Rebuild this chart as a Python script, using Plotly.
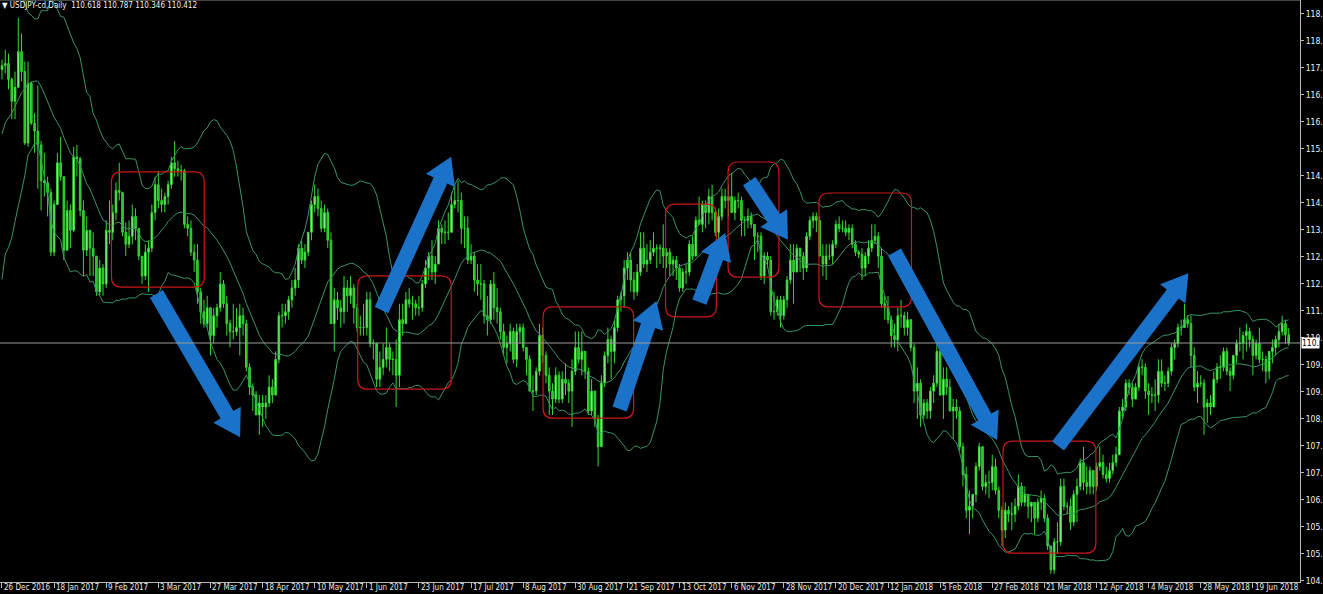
import plotly.graph_objects as go
import pandas as pd
import math

# ---------------- data ----------------
symbol_text = "USDJPY-cd,Daily"
last_ohlc = [110.618, 110.787, 110.346, 110.412]

# closes before the first visible bar (only used to seed the Bollinger bands)
warmup_closes = [112.2, 111.9, 114.5, 114.1, 113.5, 114.0, 114.0, 113.8, 114.1, 115.3,
                 115.1, 115.4, 117.2, 118.1, 117.9, 117.0, 117.8, 117.6, 117.5, 117.3]

first_open = 117.30

highs = [
 117.55,117.80,117.70,117.10,117.25,118.60,118.20,117.50,117.50,117.00,
 116.20,116.90,115.50,115.20,114.60,114.30,114.00,115.20,115.60,114.50,
 114.00,113.90,115.35,115.40,115.10,114.00,113.60,113.20,113.20,112.60,
 112.50,112.40,113.50,114.00,113.90,114.45,114.95,114.20,113.45,113.50,
 113.90,113.80,113.30,112.60,112.90,113.00,113.90,114.60,114.75,114.30,
 114.20,114.50,115.10,115.50,115.00,114.90,114.80,113.60,113.50,112.90,
 112.90,111.80,111.50,111.60,111.30,111.30,111.40,112.20,112.00,111.60,
 111.00,111.40,111.30,111.40,111.30,111.00,109.90,109.40,109.20,109.10,
 109.10,109.10,109.60,109.50,110.20,111.20,111.40,111.40,111.60,112.00,
 112.30,112.90,113.00,112.90,113.20,114.00,114.40,114.30,114.00,113.90,
 113.80,113.20,111.80,111.70,111.50,112.10,112.00,112.10,111.90,111.40,
 111.10,111.40,111.70,111.70,110.50,110.30,110.20,110.40,110.80,110.40,
 110.20,110.50,111.40,111.40,111.70,111.80,111.60,111.50,111.60,112.00,
 112.50,112.70,113.00,112.60,113.50,113.40,113.50,113.70,114.20,114.40,
 114.50,114.20,113.60,113.60,112.90,112.70,112.40,112.40,112.00,111.60,
 112.00,112.20,111.80,111.30,110.90,110.60,110.90,110.80,110.90,110.90,
 110.90,110.30,110.10,109.60,109.80,110.90,110.80,110.20,109.80,109.40,
 109.80,109.70,109.70,109.90,109.50,110.00,110.70,110.70,110.70,110.20,
 109.80,109.50,109.20,108.60,109.60,110.20,110.80,110.60,111.00,111.60,
 111.70,112.50,112.70,112.70,112.20,112.40,113.20,113.20,112.90,113.00,
 113.20,112.90,112.90,113.40,112.80,112.80,112.60,112.60,112.40,112.30,
 112.40,113.00,113.10,113.60,114.10,114.00,114.00,114.30,114.40,113.80,
 113.80,114.30,114.30,114.40,114.70,114.10,114.20,114.10,113.60,113.80,
 113.70,113.40,113.20,113.20,112.70,112.70,112.60,111.70,111.60,111.60,
 111.60,112.10,112.90,112.90,112.90,112.80,112.70,113.20,113.60,113.70,
 113.70,113.60,112.90,112.90,112.90,113.00,113.50,113.60,113.50,113.50,
 113.40,113.40,113.00,112.75,112.80,112.70,113.00,113.40,113.40,113.20,
 112.80,111.60,111.60,111.10,110.90,111.30,111.50,111.20,111.20,111.00,
 110.40,109.80,109.50,109.00,109.00,109.30,109.60,110.50,110.30,109.80,
 109.80,109.50,109.00,109.00,108.80,107.90,107.30,106.70,106.60,107.40,
 107.90,107.80,107.10,107.20,107.60,107.50,106.80,106.30,106.40,106.30,
 106.40,106.50,107.10,106.90,106.80,106.60,106.40,106.40,106.50,106.70,
 106.60,106.10,105.30,105.50,105.90,107.00,107.00,106.40,106.50,106.70,
 107.00,107.50,107.80,107.30,107.30,107.20,107.40,107.80,107.60,107.30,
 107.40,107.60,107.80,108.80,109.00,109.50,109.50,109.40,109.40,109.90,
 110.00,109.90,109.40,109.30,109.50,110.00,110.00,109.60,109.80,110.40,
 110.50,110.90,111.00,111.40,111.10,111.10,110.30,109.70,109.60,109.50,
 109.00,109.10,109.70,109.90,110.10,110.30,110.30,109.80,110.10,110.50,
 110.80,110.70,110.90,110.80,110.60,110.50,110.80,110.20,110.10,110.20,
 110.50,110.60,110.90,111.10,111.00,110.787]

lows = [
 117.05,117.20,116.80,116.05,116.05,116.90,117.00,115.40,115.35,115.90,
 115.20,114.30,113.75,114.10,113.60,112.60,112.60,113.90,114.50,112.50,
 112.80,112.80,113.20,114.60,113.60,112.10,112.60,112.10,112.10,111.60,
 111.60,111.60,111.80,112.90,113.00,113.50,114.00,113.10,112.60,112.80,
 112.90,113.00,112.50,111.90,112.00,111.70,112.70,113.50,113.80,113.70,
 113.70,113.90,114.30,114.60,114.60,114.50,113.30,113.10,112.60,112.20,
 111.40,110.90,110.80,110.80,110.10,110.40,110.80,111.20,111.30,110.60,
 110.30,110.50,110.60,110.10,110.60,109.70,109.10,108.70,108.60,108.10,
 108.30,108.50,108.80,108.90,109.30,109.90,110.80,110.90,111.00,111.30,
 111.60,111.80,112.40,112.30,112.60,113.00,113.70,113.60,113.20,113.20,
 112.80,110.90,110.20,111.00,110.80,110.90,111.20,111.40,110.90,110.70,
 110.60,110.60,110.60,110.30,110.00,109.30,109.30,109.60,109.80,109.70,
 109.60,108.80,109.30,110.60,110.90,111.30,111.00,111.10,111.10,111.20,
 111.80,112.00,112.00,111.90,112.40,112.90,112.90,113.00,113.20,113.80,
 113.70,112.90,112.80,112.40,112.40,111.70,111.60,111.50,110.90,110.60,
 110.90,111.00,110.90,110.50,110.10,109.90,110.20,109.90,109.80,110.40,
 110.20,109.60,109.20,108.70,109.10,109.60,109.90,109.40,108.60,108.60,
 108.90,108.90,108.90,109.10,108.90,108.30,109.60,109.90,109.60,109.50,
 108.60,108.60,108.30,107.30,108.10,109.30,109.90,109.50,109.90,110.70,
 111.20,111.30,112.00,111.70,111.50,111.60,112.10,112.30,112.20,112.40,
 112.60,112.30,112.40,112.30,112.30,112.10,112.10,112.00,111.70,111.70,
 111.90,112.10,112.50,112.60,113.40,113.20,113.30,113.40,113.50,113.10,
 112.90,113.50,113.80,113.60,113.70,113.50,113.80,113.10,113.10,113.30,
 113.30,112.50,112.70,112.00,111.90,112.30,111.10,111.00,111.10,110.80,
 111.00,111.30,111.90,111.40,112.20,112.20,112.00,112.20,113.00,113.30,
 113.20,112.60,112.10,112.00,112.50,112.40,112.80,113.20,113.20,113.10,
 113.00,112.80,112.60,112.55,112.00,112.10,112.40,112.70,112.90,112.30,
 111.30,111.00,110.90,110.30,110.30,110.20,110.80,110.60,110.60,110.20,
 108.90,108.50,108.30,108.50,108.50,108.50,108.90,109.30,109.10,108.50,
 109.10,108.70,108.00,108.50,107.70,106.80,106.00,105.60,106.00,106.40,
 107.20,106.70,106.60,106.50,106.70,106.60,106.00,105.30,105.50,105.90,
 105.70,105.90,106.20,106.30,106.30,106.00,105.90,105.60,105.90,106.20,
 105.90,105.20,104.60,104.60,105.10,105.30,106.20,106.10,105.70,105.80,
 105.90,106.70,106.70,106.60,106.60,106.60,106.70,107.20,107.00,106.90,
 106.90,107.10,107.30,107.60,108.50,108.70,109.10,108.80,109.00,109.20,
 109.60,109.00,108.60,108.90,108.70,108.90,109.30,109.20,109.30,109.60,
 110.00,110.30,110.60,110.90,110.80,109.80,109.20,108.90,109.30,108.10,
 108.40,108.60,108.80,109.40,109.50,109.70,109.60,109.20,109.50,109.90,
 110.20,110.00,110.20,110.30,109.60,110.00,109.90,109.70,109.40,109.50,
 109.90,110.10,110.30,110.60,110.40,110.346]

closes = [
 117.40,117.45,117.05,116.50,116.85,117.75,117.25,115.45,116.95,115.95,
 115.75,115.40,114.50,114.45,114.20,112.70,113.90,114.95,114.60,112.75,
 113.75,113.25,115.10,115.05,113.75,112.75,113.25,112.80,112.60,111.70,
 112.30,111.90,113.25,113.20,113.70,114.25,114.20,113.20,112.90,113.10,
 113.60,113.30,112.60,112.10,112.70,112.80,113.70,114.40,114.00,113.90,
 114.10,114.40,114.95,114.80,114.75,114.75,113.40,113.30,112.70,112.50,
 111.70,111.20,110.90,111.30,110.60,111.10,111.30,111.90,111.40,110.90,
 110.70,110.70,110.80,111.10,110.90,109.80,109.30,109.10,108.60,108.90,
 108.80,108.90,109.30,109.10,110.00,111.10,111.10,111.20,111.50,111.80,
 112.00,112.80,112.50,112.70,113.20,113.90,114.10,113.80,113.30,113.70,
 113.00,110.90,111.50,111.30,111.20,111.80,111.60,111.80,111.30,110.80,
 110.80,110.80,111.50,110.40,110.40,109.50,109.80,110.00,110.30,110.00,
 110.00,109.60,111.00,110.90,111.50,111.40,111.40,111.30,111.30,111.90,
 112.30,112.60,112.20,112.40,113.30,113.20,113.20,113.20,113.90,114.00,
 114.00,113.30,113.30,112.50,112.60,112.00,111.90,111.90,111.10,111.00,
 111.90,111.30,111.20,110.70,110.30,110.40,110.70,110.00,110.70,110.80,
 110.30,110.00,109.20,109.20,109.70,110.60,110.10,109.60,109.20,109.00,
 109.60,109.00,109.50,109.40,109.20,109.70,110.30,110.00,110.20,109.70,
 108.70,109.20,108.50,107.80,109.40,110.10,110.50,110.20,110.80,111.50,
 111.60,112.30,112.50,112.00,111.70,112.20,112.80,112.40,112.50,112.70,
 112.80,112.80,112.80,112.60,112.70,112.40,112.50,112.30,111.80,112.20,
 112.20,112.90,112.60,113.50,113.40,113.90,113.70,114.10,113.70,113.20,
 113.60,114.10,114.00,114.10,113.70,114.00,114.00,113.50,113.50,113.60,
 113.40,113.10,113.10,112.10,112.60,112.50,111.20,111.20,111.50,111.10,
 111.50,112.00,112.50,112.20,112.80,112.60,112.30,113.10,113.50,113.60,
 113.50,112.60,112.40,112.60,112.60,112.90,113.40,113.30,113.30,113.20,
 113.30,112.90,112.70,112.65,112.30,112.60,112.80,113.00,113.10,112.60,
 111.40,111.30,111.00,110.60,110.50,111.10,111.10,110.80,111.00,110.30,
 109.20,109.40,108.60,108.90,108.70,109.20,109.40,110.20,109.10,109.50,
 109.30,108.70,108.80,108.70,107.80,107.10,106.20,106.30,106.60,107.30,
 107.80,106.80,106.90,106.90,107.30,106.70,106.20,105.70,106.20,106.10,
 106.10,106.30,106.80,106.40,106.60,106.30,106.40,106.00,106.40,106.50,
 106.00,105.30,104.70,105.40,105.40,106.80,106.30,106.30,105.90,106.60,
 106.80,107.40,106.90,106.80,107.20,106.80,107.30,107.40,107.10,107.00,
 107.20,107.40,107.60,108.70,108.80,109.40,109.30,109.00,109.30,109.80,
 109.80,109.20,109.10,109.10,109.10,109.70,109.40,109.40,109.70,110.30,
 110.40,110.80,110.80,111.00,110.90,110.10,109.30,109.40,109.40,108.80,
 108.90,108.80,109.50,109.80,109.80,110.20,109.70,109.60,110.10,110.40,
 110.40,110.60,110.70,110.50,110.10,110.40,110.00,110.00,109.70,110.20,
 110.30,110.50,110.70,110.90,110.618,110.412]

date_labels = ["26 Dec 2016", "18 Jan 2017", "9 Feb 2017", "3 Mar 2017", "27 Mar 2017",
               "18 Apr 2017", "10 May 2017", "1 Jun 2017", "23 Jun 2017", "17 Jul 2017",
               "8 Aug 2017", "30 Aug 2017", "21 Sep 2017", "13 Oct 2017", "6 Nov 2017",
               "28 Nov 2017", "20 Dec 2017", "12 Jan 2018", "5 Feb 2018", "27 Feb 2018",
               "21 Mar 2018", "12 Apr 2018", "4 May 2018", "28 May 2018", "19 Jun 2018"]
bars_per_label = 16

price_tick_vals = [118.70, 118.02, 117.34, 116.66, 115.98, 115.30, 114.62, 113.94, 113.26,
                   112.58, 111.90, 111.22, 110.54, 109.86, 109.18, 108.50, 107.82, 107.14,
                   106.46, 105.78, 105.10, 104.42]
price_tick_text = ["118.", "118.", "117.", "116.", "116.", "115.", "114.", "114.", "113.",
                   "112.", "112.", "111.", "110.", "109.", "109.", "108.", "107.", "107.",
                   "106.", "105.", "105.", "104."]

# highlight boxes: (first bar, last bar, low price, high price)
boxes = [(33.6, 62.1, 111.82, 114.72),
         (109.2, 137.9, 109.25, 112.10),
         (166.1, 193.9, 108.52, 111.32),
         (203.7, 219.3, 111.07, 113.91),
         (222.9, 238.5, 112.07, 114.97),
         (250.8, 279.2, 111.32, 114.19),
         (307.3, 335.8, 105.12, 107.94)]

# trend arrows: (tail bar, tail price, tip bar, tip price)
arrows = [(47.4, 111.65, 73.1, 108.04),
          (116.5, 111.24, 137.9, 115.10),
          (189.6, 108.75, 200.9, 111.47),
          (214.1, 111.44, 222.0, 113.18),
          (229.4, 114.49, 241.3, 113.01),
          (274.0, 112.70, 305.5, 107.97),
          (324.2, 107.82, 364.2, 112.17)]

bb_period = 20
bb_dev = 2.0

# ---------------- derived ----------------
n = len(closes)
idx = list(range(n))
opens = [first_open] + closes[:-1]

s = pd.Series(warmup_closes + closes)
mid = s.rolling(bb_period).mean()
sd = s.rolling(bb_period).std(ddof=0)
upper = (mid + bb_dev * sd).iloc[-n:].tolist()
lower = (mid - bb_dev * sd).iloc[-n:].tolist()
mid = mid.iloc[-n:].tolist()

# ---------------- layout geometry ----------------
W, H = 1323, 594
ML, MR, MT, MB = 0, 18, 0, 12
PW, PH = W - ML - MR, H - MT - MB
x_range = [-0.612, 398.47]
y_range = [104.393, 119.05]
px_x = PW / (x_range[1] - x_range[0])
px_y = PH / (y_range[1] - y_range[0])

GREEN_LINE = "#36d836"
BAND = "#3a9466"
BLUE = "#1a72c9"
RED = "#c81818"
FONT = "'DejaVu Sans Condensed', 'Liberation Sans Narrow', sans-serif"
FS = 8
FS_AX = 8.5

fig = go.Figure()

fig.add_trace(go.Candlestick(
    x=idx, open=opens, high=highs, low=lows, close=closes,
    increasing=dict(line=dict(color=GREEN_LINE, width=1), fillcolor="#a4f4a4"),
    decreasing=dict(line=dict(color=GREEN_LINE, width=1), fillcolor="#28b828"),
    whiskerwidth=0, hoverinfo="skip", showlegend=False))

for band in (upper, mid, lower):
    fig.add_trace(go.Scatter(x=idx, y=band, mode="lines",
                             line=dict(color=BAND, width=1),
                             hoverinfo="skip", showlegend=False))

shapes = []

def rounded_rect(i0, i1, p0, p1, r=10):
    rx, ry = r / px_x, r / px_y
    return (f"M {i0+rx},{p1} L {i1-rx},{p1} Q {i1},{p1} {i1},{p1-ry} "
            f"L {i1},{p0+ry} Q {i1},{p0} {i1-rx},{p0} "
            f"L {i0+rx},{p0} Q {i0},{p0} {i0},{p0+ry} "
            f"L {i0},{p1-ry} Q {i0},{p1} {i0+rx},{p1} Z")

for (i0, i1, p0, p1) in boxes:
    shapes.append(dict(type="path", path=rounded_rect(i0, i1, p0, p1),
                       xref="x", yref="y", line=dict(color=RED, width=1.2),
                       fillcolor="rgba(0,0,0,0)", layer="above"))

def arrow_path(ti, tp, hi, hp, w=7.5, hw=16, hl=26):
    # work in pixel space (y up), convert back to data
    tx, ty = ti * px_x, tp * px_y
    hx, hy = hi * px_x, hp * px_y
    L = math.hypot(hx - tx, hy - ty)
    ux, uy = (hx - tx) / L, (hy - ty) / L
    nx, ny = -uy, ux
    bx, by = hx - ux * hl, hy - uy * hl
    pts = [(tx + nx * w, ty + ny * w), (bx + nx * w, by + ny * w),
           (bx + nx * hw, by + ny * hw), (hx, hy),
           (bx - nx * hw, by - ny * hw), (bx - nx * w, by - ny * w),
           (tx - nx * w, ty - ny * w)]
    d = [(px / px_x, py / px_y) for px, py in pts]
    return "M " + " L ".join(f"{a:.4f},{b:.4f}" for a, b in d) + " Z"

for (ti, tp, hi, hp) in arrows:
    shapes.append(dict(type="path", path=arrow_path(ti, tp, hi, hp),
                       xref="x", yref="y", line=dict(width=0),
                       fillcolor=BLUE, layer="above"))

# current price line
shapes.append(dict(type="line", xref="paper", yref="y", x0=0, x1=1,
                   y0=last_ohlc[3], y1=last_ohlc[3],
                   line=dict(color="#9a9a9a", width=1), layer="above"))
# top frame line
shapes.append(dict(type="line", xref="paper", yref="paper", x0=0, x1=1, y0=1, y1=1,
                   line=dict(color="#8a8a8a", width=1)))

annotations = []
for k, lab in enumerate(date_labels):
    annotations.append(dict(x=k * bars_per_label, y=0, xref="x", yref="paper",
                            text=lab, showarrow=False, xanchor="left", yanchor="top",
                            xshift=1, yshift=0, borderpad=0,
                            font=dict(color="#e8e8e8", size=FS, family=FONT)))

annotations.append(dict(x=0, y=1, xref="paper", yref="paper", xanchor="left", yanchor="top",
                        xshift=1, yshift=0, showarrow=False, borderpad=0,
                        text="▼ " + symbol_text + "  " + " ".join(f"{v:.3f}" for v in last_ohlc),
                        font=dict(color="#f0f0f0", size=FS, family=FONT)))

annotations.append(dict(x=1, y=last_ohlc[3], xref="paper", yref="y", xanchor="left",
                        yanchor="middle", xshift=1, showarrow=False,
                        text="110.", bgcolor="#ffffff", borderpad=0,
                        font=dict(color="#000000", size=FS_AX, family=FONT)))

fig.update_layout(
    width=W, height=H,
    margin=dict(l=ML, r=MR, t=MT, b=MB),
    paper_bgcolor="#000000", plot_bgcolor="#000000",
    showlegend=False,
    shapes=shapes, annotations=annotations,
    xaxis=dict(range=x_range, rangeslider=dict(visible=False), showgrid=False,
               zeroline=False, showline=True, linecolor="#b8b8b8", linewidth=1,
               tickvals=[k * bars_per_label for k in range(len(date_labels))],
               ticks="outside", ticklen=5, tickcolor="#b8b8b8", showticklabels=False),
    yaxis=dict(range=y_range, side="right", showgrid=False, zeroline=False,
               showline=True, linecolor="#b8b8b8", linewidth=1,
               tickvals=price_tick_vals, ticktext=price_tick_text,
               ticks="outside", ticklen=3, tickcolor="#b8b8b8",
               tickfont=dict(color="#f0f0f0", size=FS_AX, family=FONT)),
)

fig.write_html("out.html", config={"displayModeBar": False},
               post_script="document.body.style.margin='0';document.body.style.overflow='hidden';")
